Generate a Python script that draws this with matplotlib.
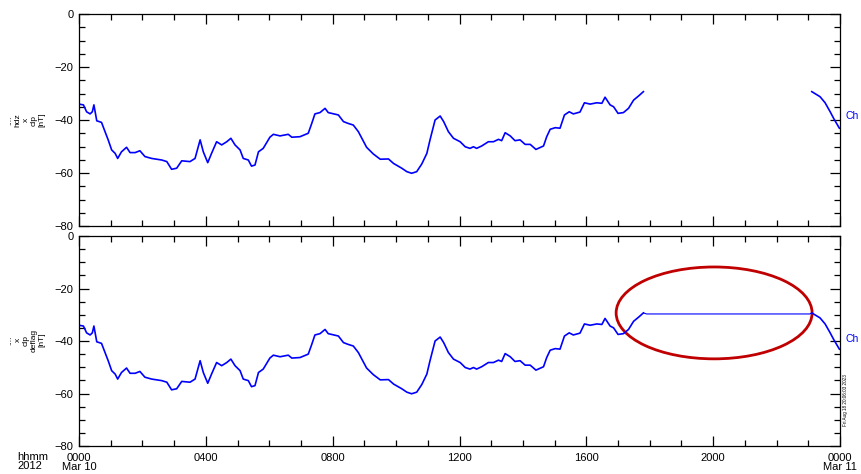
import numpy as np
import matplotlib.pyplot as plt
from matplotlib.patches import Ellipse

plt.rcParams['font.family'] = ['Liberation Sans', 'DejaVu Sans']

# time in hours after 0000 Mar 10 2012, field in nT
t_a = [0, 0.14, 0.24, 0.35, 0.42, 0.47, 0.56, 0.71, 0.84, 0.92, 1.03, 1.14, 1.22, 1.34, 1.5,
       1.61, 1.77, 1.92, 2.08, 2.29, 2.61, 2.77, 2.92, 3.08, 3.24, 3.5, 3.66, 3.82, 3.92, 4.06,
       4.18, 4.34, 4.5, 4.66, 4.79, 4.92, 5.08, 5.18, 5.34, 5.44, 5.55, 5.66, 5.81, 6.02, 6.13,
       6.34, 6.6, 6.71, 6.97, 7.23, 7.34, 7.44, 7.6, 7.76, 7.86, 8.18, 8.34, 8.49, 8.65, 8.81,
       9.07, 9.28, 9.5, 9.76, 9.92, 10.18, 10.34, 10.49, 10.65, 10.81, 10.97, 11.07, 11.23,
       11.39, 11.5, 11.65, 11.81, 12.02, 12.18, 12.33, 12.44, 12.54, 12.7, 12.91, 13.07, 13.23,
       13.33, 13.44, 13.6, 13.75, 13.91, 14.07, 14.23, 14.41, 14.65, 14.75, 14.86, 15.02, 15.17,
       15.31, 15.46, 15.59, 15.8, 15.94, 16.12, 16.33, 16.49, 16.59, 16.75, 16.86, 17.0, 17.17,
       17.33, 17.49, 17.65, 17.8]
v_a = [-34, -34.3, -36.9, -37.7, -36.9, -34.3, -40.3, -40.9, -45, -47.5, -51.3, -52.6, -54.5,
       -52, -50.3, -52.3, -52.3, -51.6, -53.8, -54.5, -55.1, -55.7, -58.6, -58.2, -55.4, -55.7,
       -54.5, -47.5, -52, -56.1, -52.6, -48.2, -49.4, -48.2, -46.9, -49.4, -51.3, -54.5, -55.1,
       -57.4, -57, -52, -50.7, -46.5, -45.4, -46, -45.4, -46.5, -46.3, -45, -41.3, -37.7, -37.2,
       -35.6, -37.2, -38.1, -40.6, -41.3, -41.9, -44.4, -50.3, -52.8, -54.8, -54.7, -56.4, -58.2,
       -59.5, -60.1, -59.5, -56.6, -52.6, -47.5, -40, -38.5, -40.6, -44.4, -46.9, -48.2, -50.1,
       -50.7, -50.1, -50.7, -49.8, -48.2, -48.2, -47.3, -47.8, -44.8, -46, -47.8, -47.5, -49.2,
       -49.2, -51.1, -49.8, -46.3, -43.5, -42.9, -43.1, -38.1, -36.9, -37.7, -37, -33.5, -34,
       -33.5, -33.7, -31.4, -34.3, -35, -37.5, -37.2, -35.6, -32.5, -30.9, -29.3]

# data after the gap
t_b = [23.11, 23.37, 23.53, 23.69, 23.8, 23.98]
v_b = [-29.3, -31.2, -33.5, -36.9, -39.4, -43.1]

# deflag fill across the gap
t_fill = [17.8, 17.9, 23.05, 23.11]
v_fill = [-29.3, -29.7, -29.7, -29.3]

xticks = [0, 4, 8, 12, 16, 20, 24]
xlabels = ['0000\nMar 10', '0400', '0800', '1200', '1600', '2000', '0000\nMar 11']
yticks = [0, -20, -40, -60, -80]
ylabels = ['0', '\u221220', '\u221240', '\u221260', '\u221280']

W, H = 861, 474
fig = plt.figure(figsize=(W / 100, H / 100), dpi=100)


def px_axes(x0, y0, x1, y1):
    return fig.add_axes([x0 / W, 1 - y1 / H, (x1 - x0) / W, (y1 - y0) / H])


def style(ax, show_x):
    ax.set_xlim(0, 24)
    ax.set_ylim(-80, 0)
    ax.set_xticks(xticks)
    ax.set_xticks(np.arange(0, 25, 1), minor=True)
    ax.set_yticks(yticks)
    ax.set_yticks(np.arange(-80, 1, 5), minor=True)
    ax.set_yticklabels(ylabels)
    if show_x:
        ax.set_xticklabels(xlabels, linespacing=0.9)
    else:
        ax.set_xticklabels([])
    ax.tick_params(which='both', direction='in', top=True, right=True,
                   labelsize=8, width=0.9, colors='black', pad=4)
    ax.tick_params(axis='x', pad=5)
    ax.tick_params(which='major', length=7)
    ax.tick_params(which='minor', length=4.5)
    for s in ax.spines.values():
        s.set_linewidth(0.9)


ax1 = px_axes(79, 14, 840, 226)
ax2 = px_axes(79, 236, 840, 446)

ax1.plot(t_a, v_a, color='#0000ff', lw=1.2)
ax1.plot(t_b, v_b, color='#0000ff', lw=1.2)
style(ax1, False)

ax2.plot(t_a, v_a, color='#0000ff', lw=1.2)
ax2.plot(t_fill, v_fill, color='#0000ff', lw=0.8)
ax2.plot(t_b, v_b, color='#0000ff', lw=1.2)
style(ax2, True)

# highlight of the filled gap
ax2.add_patch(Ellipse((20.03, -29.3), 6.18, 35, fill=False,
                      edgecolor='#c00000', lw=2, clip_on=False))

# y labels, stacked rotated lines
for x, s in [(10, '....'), (18, 'hdz'), (26, 'x'), (34, 'clp'), (42, '[nT]')]:
    fig.text(x / W, 1 - 120 / H, s, rotation=90, ha='center', va='center', fontsize=6)
for x, s in [(10, '....'), (18, 'x'), (26, 'clp'), (34, 'deflag'), (42, '[nT]')]:
    fig.text(x / W, 1 - 340 / H, s, rotation=90, ha='center', va='center', fontsize=6)

fig.text(17 / W, 1 - 452 / H, 'hhmm\n2012', ha='left', va='top', fontsize=8, linespacing=0.9)

# channel labels at right edge
fig.text(846 / W, 1 - 116 / H, 'Ch', color='#0000ff', fontsize=7.5, va='center')
fig.text(846 / W, 1 - 339 / H, 'Ch', color='#0000ff', fontsize=7.5, va='center')

fig.text(846 / W, 1 - 400 / H, 'Fri Aug 18 20:06:03 2023', rotation=90,
         ha='center', va='center', fontsize=3.3)

fig.savefig('out.png', dpi=100)
